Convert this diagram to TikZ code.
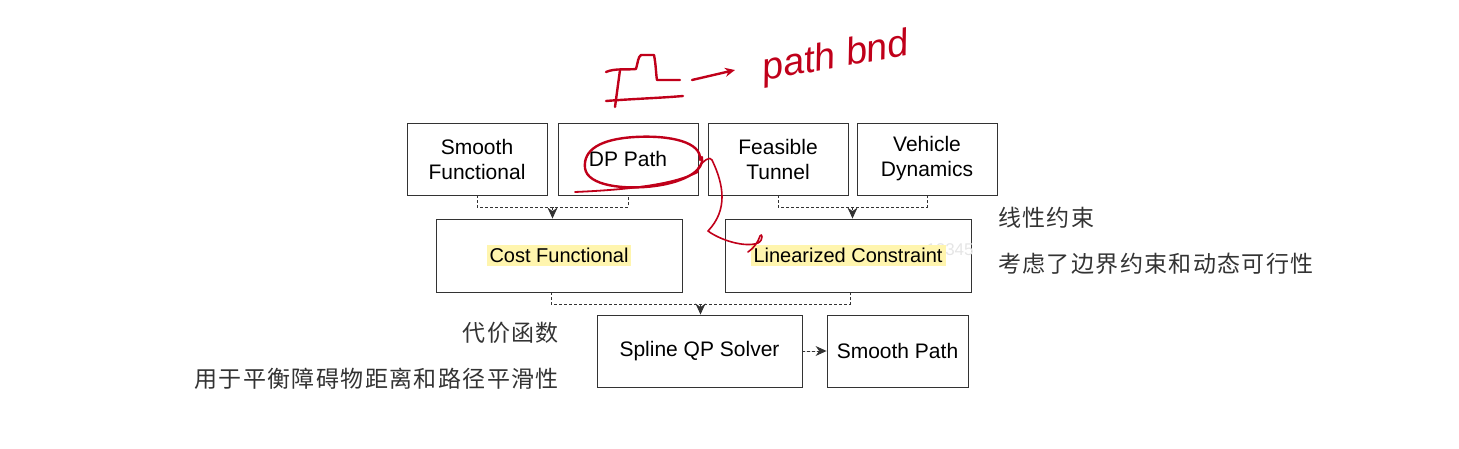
\documentclass[tikz,border=0pt]{standalone}
\usepackage{fontspec}
\setmainfont{Liberation Sans}
\newfontfamily\cjk[LetterSpace=6]{Noto Sans CJK SC}
\usetikzlibrary{arrows.meta,calc}
\definecolor{hl}{HTML}{FFF5AE}
\definecolor{ink}{HTML}{C0001A}
\begin{document}
\begin{tikzpicture}[x=1pt,y=-1pt,
  box/.style={draw=black!80,line width=0.9pt,inner sep=0pt,align=center,font=\fontsize{21}{25}\selectfont},
  conn/.style={dashed,dash pattern=on 3pt off 2pt,line width=0.9pt,draw=black!80},
  tip/.style={-{Stealth[length=11pt,width=10pt]},draw=black!80,fill=black},
  note/.style={font=\cjk\fontsize{23}{25}\selectfont,text=black!80,inner sep=0pt},
  hlt/.style={fill=hl,inner sep=3pt},
  red/.style={draw=ink,line width=2.4pt,line cap=round,line join=round}]
\useasboundingbox (0,0) rectangle (1459,449);
% top row
\node[box,minimum width=140pt,minimum height=72pt] (sf) at (477,159) {Smooth\\Functional};
\node[box,minimum width=140pt,minimum height=72pt] (dp) at (628,159) {DP Path};
\node[box,minimum width=140pt,minimum height=72pt] (ft) at (778,159) {Feasible\\Tunnel};
\node[box,minimum width=140pt,minimum height=72pt] (vd) at (927,159) {Vehicle\\Dynamics};
% middle row
\node[box,minimum width=246pt,minimum height=73pt] (cf) at (559,255.5) {};
\node[hlt,font=\fontsize{20}{22}\selectfont] (cft) at (cf.center) {Cost Functional};
\node[box,minimum width=246pt,minimum height=73pt] (lc) at (848,255.5) {};
\node[font=\fontsize{17}{20}\selectfont,text=black!10,inner sep=0pt] (wm) at (950,250) {12345};
\node[hlt,font=\fontsize{20}{22}\selectfont] (lct) at (lc.center) {Linearized Constraint};
% bottom row
\node[box,minimum width=205pt,minimum height=72pt] (qp) at (699.5,351) {Spline QP Solver};
\node[box,minimum width=141pt,minimum height=72pt] (sp) at (897.5,351) {Smooth Path};
% connectors
\coordinate (b1) at ($(sf.south)!0.5!(dp.south)+(0,12)$);
\draw[conn] (sf.south) |- (b1) -| (dp.south);
\draw[conn,tip] (b1) -- (b1 |- cf.north);
\coordinate (b2) at ($(ft.south)!0.5!(vd.south)+(0,12)$);
\draw[conn] (ft.south) |- (b2) -| (vd.south);
\draw[conn,tip] (b2) -- (b2 |- lc.north);
\coordinate (c1) at ($(cf.south)+(-8,0)$);
\coordinate (c2) at ($(lc.south)+(2,0)$);
\coordinate (b3) at ($(c1)!0.5!(c2)+(0,12)$);
\draw[conn] (c1) |- (b3) -| (c2);
\draw[conn,tip] (b3) -- (b3 |- qp.north);
\draw[conn,tip] (qp.east) -- (sp.west);
% notes
\node[note,anchor=west] (n1) at (998,218) {线性约束};
\node[note,anchor=west] (n2) at (998,264) {考虑了边界约束和动态可行性};
\node[note,anchor=east] (n3) at (559,333) {代价函数};
\node[note,anchor=east] (n4) at (559,379) {用于平衡障碍物距离和路径平滑性};
% red handwritten annotations
\draw[red] (700,160) .. controls (702,142) and (670,135) .. (635,137)
  .. controls (600,139) and (583,150) .. (585,168)
  .. controls (587,186) and (625,190) .. (655,186)
  .. controls (685,182) and (705,170) .. (702,157);
\draw[red,line width=1.8pt] (575,192) .. controls (620,190) and (670,186) .. (698,172);
\draw[red,line width=1.6pt] (698,168) .. controls (704,160) and (710,156) .. (712,160)
  .. controls (724,185) and (728,210) .. (708,231)
  .. controls (720,240) and (745,248) .. (758,243)
  .. controls (764,240) and (762,232) .. (760,236)
  .. controls (758,242) and (754,248) .. (748,252);
% f(l)
\draw[red] (620,70) -- (615,107);
\draw[red] (606,72) .. controls (615,68) and (628,70) .. (636,69)
  .. controls (638,62) and (638,57) .. (641,55) -- (654,55)
  .. controls (656,65) and (656,75) .. (657,80) -- (680,80);
\draw[red] (606,101) .. controls (630,99) and (660,98) .. (683,96);
\draw[red,-{Stealth[length=10pt,width=9pt]}] (692,80) -- (735,70);
\node[text=ink,font=\itshape\fontsize{38}{40}\selectfont,rotate=10,inner sep=0pt] (pb) at (836,58) {path bnd};
\end{tikzpicture}
\end{document}
